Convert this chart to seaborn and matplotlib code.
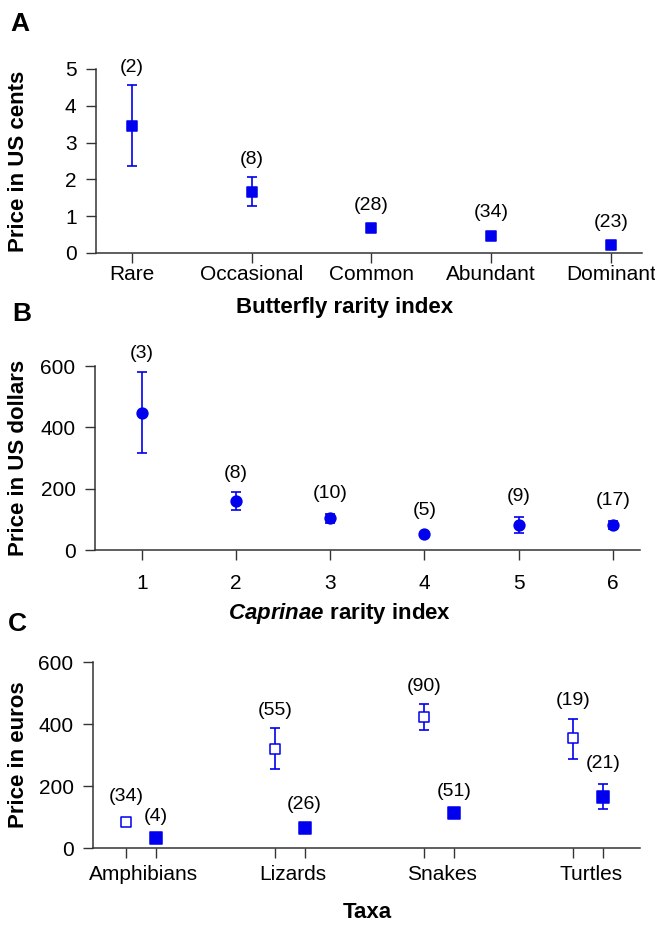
import numpy as np
import seaborn as sns
from matplotlib import pyplot as plt

#%% Data

# Panel A - butterflies
a_cats = ["Rare", "Occasional", "Common", "Abundant", "Dominant"]
a_mean = [3.45, 1.66, 0.68, 0.46, 0.22]
a_low = [2.37, 1.28, 0.68, 0.46, 0.22]
a_high = [4.57, 2.07, 0.68, 0.46, 0.22]
a_n = ["(2)", "(8)", "(28)", "(34)", "(23)"]
a_label_y = [5.05, 2.55, 1.30, 1.09, 0.82]

# Panel B - Caprinae
b_cats = [1, 2, 3, 4, 5, 6]
b_mean = [447, 160, 104, 52, 82, 82]
b_low = [316, 130, 88, 52, 55, 68]
b_high = [580, 189, 117, 52, 108, 95]
b_n = ["(3)", "(8)", "(10)", "(5)", "(9)", "(17)"]
b_label_y = [642, 251, 183, 130, 173, 163]

# Panel C - taxa, open and filled series
c_cats = ["Amphibians", "Lizards", "Snakes", "Turtles"]
c_open_mean = [84, 319, 423, 355]
c_open_low = [84, 255, 381, 287]
c_open_high = [84, 387, 465, 416]
c_open_n = ["(34)", "(55)", "(90)", "(19)"]
c_open_label_y = [165, 444, 521, 477]
c_fill_mean = [32, 65, 113, 165]
c_fill_low = [32, 65, 113, 126]
c_fill_high = [32, 65, 113, 206]
c_fill_n = ["(4)", "(26)", "(51)", "(21)"]
c_fill_label_y = [103, 139, 181, 271]

#%% Style
sns.set_style("ticks")
plt.rcParams["font.family"] = ["Liberation Sans", "DejaVu Sans"]
plt.rcParams["mathtext.fontset"] = "custom"
plt.rcParams["mathtext.bfit"] = "Liberation Sans:italic:bold"
plt.rcParams["mathtext.it"] = "Liberation Sans:italic"
plt.rcParams["mathtext.rm"] = "Liberation Sans"
plt.rcParams["text.color"] = "black"
plt.rcParams["axes.labelcolor"] = "black"
plt.rcParams["xtick.labelcolor"] = "black"
plt.rcParams["ytick.labelcolor"] = "black"
blue = "#0000ee"
tick_fs = 15
n_fs = 14
lab_fs = 16

fig = plt.figure(figsize=(6.55, 9.27), dpi=100)
W, H = 655.0, 927.0


def add_axes(left, right, top, bottom):
    return fig.add_axes([left / W, 1 - bottom / H, (right - left) / W, (bottom - top) / H])


def style(ax, xpad):
    sns.despine(ax=ax)
    for side in ["left", "bottom"]:
        ax.spines[side].set_linewidth(1.1)
        ax.spines[side].set_color("#333333")
    ax.tick_params(axis="both", direction="out", length=7, width=1.0,
                   labelsize=tick_fs, color="#333333", labelcolor="black")
    ax.tick_params(axis="y", pad=7)
    ax.tick_params(axis="x", pad=xpad)


def draw(ax, x, mean, low, high, marker, s, face):
    m = np.array(mean)
    yerr = [m - np.array(low), np.array(high) - m]
    ax.errorbar(x, mean, yerr=yerr, fmt="none", ecolor=blue, elinewidth=1.2,
                capsize=3.3, capthick=1.2, zorder=2)
    sns.scatterplot(x=x, y=mean, marker=marker, s=s, color=face, edgecolor=blue,
                    linewidth=1.1, ax=ax, zorder=3, legend=False)


def n_labels(ax, xs, ys, texts):
    for x, y, t in zip(xs, ys, texts):
        ax.text(x, y, t, ha="center", va="center", fontsize=n_fs, clip_on=False)


#%% Panel A
axA = add_axes(96, 642, 69, 253)
xa = np.arange(len(a_cats))
draw(axA, xa, a_mean, a_low, a_high, "s", 55, blue)
n_labels(axA, xa, a_label_y, a_n)
axA.set_xlim(-0.30, 4.26)
axA.set_ylim(0, 5)
axA.set_yticks([0, 1, 2, 3, 4, 5])
axA.set_xticks(xa)
axA.set_xticklabels(a_cats)
style(axA, 2)
axA.set_ylabel("Price in US cents", fontsize=lab_fs, fontweight="bold", va="center")
axA.yaxis.set_label_coords((19 - 96) / 546, 0.5)
axA.set_xlabel("Butterfly rarity index", fontsize=lab_fs, fontweight="bold", va="center")
axA.xaxis.set_label_coords((345 - 96) / 546, -(308 - 253) / 184)

#%% Panel B
axB = add_axes(95, 640, 366, 550)
draw(axB, b_cats, b_mean, b_low, b_high, "o", 60, blue)
n_labels(axB, b_cats, b_label_y, b_n)
axB.set_xlim(0.50, 6.29)
axB.set_ylim(0, 600)
axB.set_yticks([0, 200, 400, 600])
axB.set_xticks(b_cats)
style(axB, 10)
axB.set_ylabel("Price in US dollars", fontsize=lab_fs, fontweight="bold", va="center")
axB.yaxis.set_label_coords((19 - 95) / 545, 0.5)
axB.set_xlabel(r"$\mathbfit{Caprinae}$ rarity index", fontsize=lab_fs,
               fontweight="bold", va="center")
axB.xaxis.set_label_coords((340 - 95) / 545, -(613 - 550) / 184)

#%% Panel C
axC = add_axes(93, 640, 662, 848)
xc = np.arange(len(c_cats))
x_open = xc - 0.1
x_fill = xc + 0.1
draw(axC, x_open, c_open_mean, c_open_low, c_open_high, "s", 55, "white")
draw(axC, x_fill, c_fill_mean, c_fill_low, c_fill_high, "s", 65, blue)
n_labels(axC, x_open, c_open_label_y, c_open_n)
n_labels(axC, x_fill, c_fill_label_y, c_fill_n)
axC.set_xlim(-0.32, 3.35)
axC.set_ylim(0, 600)
axC.set_yticks([0, 200, 400, 600])
axC.set_xticks(np.concatenate([x_open, x_fill]))
axC.set_xticklabels([])
axC.set_xticks(xc + 0.02, minor=True)
axC.set_xticklabels(c_cats, minor=True)
style(axC, 5)
axC.tick_params(axis="x", which="minor", length=0, pad=12, labelsize=tick_fs)
axC.set_ylabel("Price in euros", fontsize=lab_fs, fontweight="bold", va="center")
axC.yaxis.set_label_coords((19 - 93) / 547, 0.5)
axC.set_xlabel("Taxa", fontsize=lab_fs, fontweight="bold", va="center")
axC.xaxis.set_label_coords((367 - 93) / 547, -(913 - 848) / 186)

#%% Panel letters
for letter, xpix, ypix in [("A", 20, 24), ("B", 22, 314), ("C", 17, 624)]:
    fig.text(xpix / W, 1 - ypix / H, letter, fontsize=19, fontweight="bold",
             ha="center", va="center")

fig.savefig("out.png", dpi=100)
